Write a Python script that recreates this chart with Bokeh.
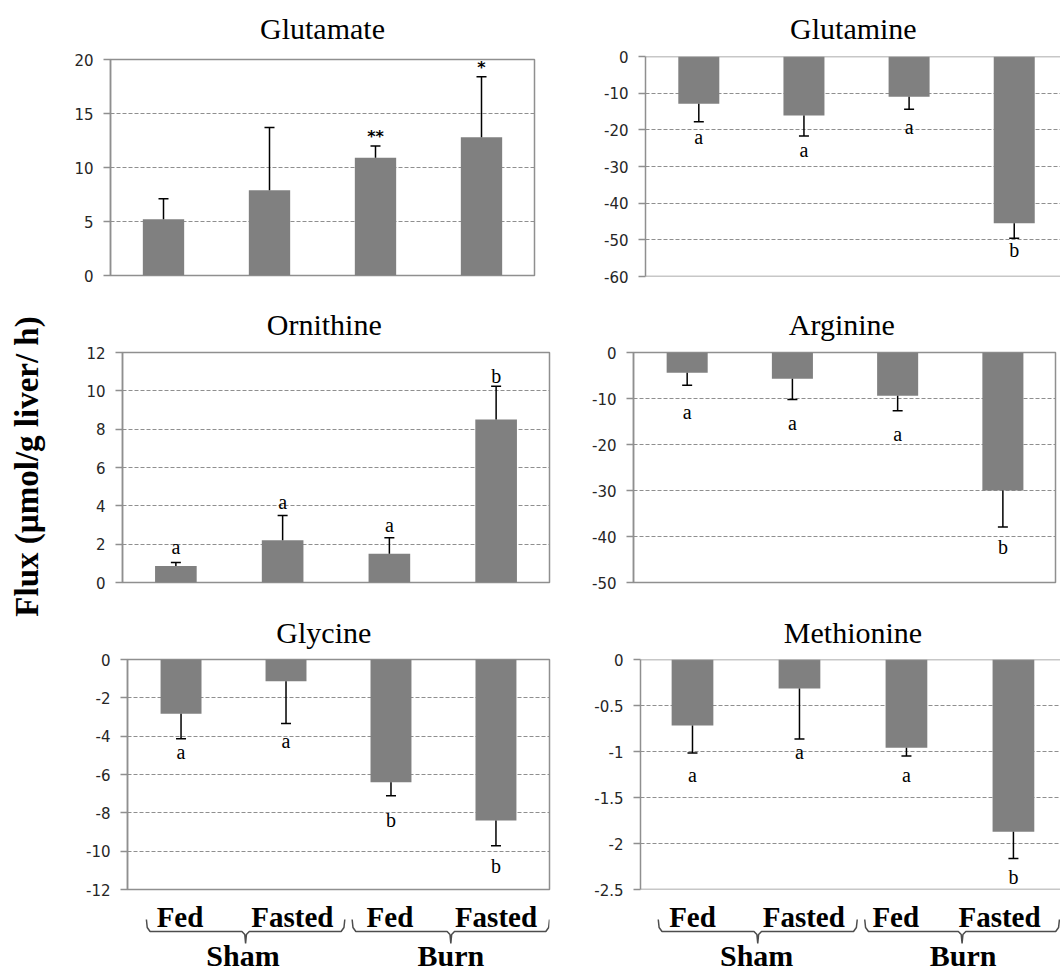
import math
from bokeh.plotting import figure
from bokeh.layouts import row, column
from bokeh.models import ColumnDataSource, Range1d, FixedTicker, Whisker, TeeHead, Span
from bokeh.core.properties import value
from bokeh.embed import file_html
from bokeh.resources import INLINE

# ---------------- data ----------------
groups = ["Sham", "Burn"]
conditions = ["Fed", "Fasted", "Fed", "Fasted"]
ylabel = "Flux (\u00b5mol/g liver/ h)"

glutamate = [5.2, 7.9, 10.9, 12.8]
glutamate_err = [1.9, 5.8, 1.1, 5.6]
glutamate_marks = ["", "", "**", "*"]
glutamate_mark_y = [0, 0, 12.9, 19.3]
glutamate_ticks = [0, 5, 10, 15, 20]
glutamate_tick_labels = ["0", "5", "10", "15", "20"]

glutamine = [-12.9, -16.1, -11.0, -45.5]
glutamine_err = [4.9, 5.6, 3.4, 4.1]
glutamine_marks = ["a", "a", "a", "b"]
glutamine_mark_y = [-22.0, -25.4, -19.1, -52.9]
glutamine_ticks = [0, -10, -20, -30, -40, -50, -60]
glutamine_tick_labels = ["0", "-10", "-20", "-30", "-40", "-50", "-60"]

ornithine = [0.86, 2.2, 1.5, 8.5]
ornithine_err = [0.18, 1.3, 0.83, 1.74]
ornithine_marks = ["a", "a", "a", "b"]
ornithine_mark_y = [1.83, 4.2, 2.99, 10.8]
ornithine_ticks = [0, 2, 4, 6, 8, 10, 12]
ornithine_tick_labels = ["0", "2", "4", "6", "8", "10", "12"]

arginine = [-4.4, -5.7, -9.4, -30.0]
arginine_err = [2.7, 4.5, 3.25, 7.95]
arginine_marks = ["a", "a", "a", "b"]
arginine_mark_y = [-12.9, -15.4, -17.7, -42.3]
arginine_ticks = [0, -10, -20, -30, -40, -50]
arginine_tick_labels = ["0", "-10", "-20", "-30", "-40", "-50"]

glycine = [-2.83, -1.13, -6.4, -8.4]
glycine_err = [1.31, 2.21, 0.71, 1.32]
glycine_marks = ["a", "a", "b", "b"]
glycine_mark_y = [-4.84, -4.23, -8.35, -10.75]
glycine_ticks = [0, -2, -4, -6, -8, -10, -12]
glycine_tick_labels = ["0", "-2", "-4", "-6", "-8", "-10", "-12"]

methionine = [-0.717, -0.315, -0.96, -1.873]
methionine_err = [0.30, 0.55, 0.09, 0.29]
methionine_marks = ["a", "a", "a", "b"]
methionine_mark_y = [-1.25, -1.0, -1.25, -2.36]
methionine_ticks = [0, -0.5, -1, -1.5, -2, -2.5]
methionine_tick_labels = ["0", "-0.5", "-1", "-1.5", "-2", "-2.5"]

# label placement under the bottom panels (category units)
glycine_cond_x = [-0.01, 1.06, 1.99, 3.0]
glycine_group_x = [0.59, 2.57]
glycine_braces = [(-0.33, 1.56), (1.63, 3.51)]
methionine_cond_x = [0.0, 1.04, 1.9, 2.87]
methionine_group_x = [0.6, 2.53]
methionine_braces = [(-0.32, 1.54), (1.61, 3.43)]

# ---------------- style ----------------
GRAY = "#8f8f8f"
BAR = "#808080"
SERIF = "Liberation Serif"
SANS = "DejaVu Sans"
xpos = list(range(len(conditions)))
TOTAL_H = 972


def bare(W, H, xr, yr, bl, br):
    s = figure(width=W, height=H, x_range=xr, y_range=yr,
               x_axis_type=None, y_axis_type=None, toolbar_location=None,
               output_backend="svg", min_border_left=bl, min_border_right=br,
               min_border_top=0, min_border_bottom=0)
    s.outline_line_color = None
    s.grid.visible = False
    s.background_fill_color = "white"
    s.border_fill_color = "white"
    return s


def make_panel(vals, errs, marks, mark_y, ticks, tick_labels, yr, xr,
               W, H, bl, br, bt, bb, outline=True,
               mark_font=SERIF, mark_size="20px", mark_style="normal"):
    p = figure(width=W, height=H, x_range=Range1d(*xr), y_range=Range1d(*yr),
               x_axis_type=None, toolbar_location=None, output_backend="svg",
               min_border_left=bl, min_border_right=br, min_border_top=bt,
               min_border_bottom=bb)
    p.background_fill_color = "white"
    p.border_fill_color = "white"

    ax = p.yaxis[0]
    ax.ticker = FixedTicker(ticks=ticks)
    ax.major_label_overrides = {t: l for t, l in zip(ticks, tick_labels)}
    ax.major_label_text_font = SANS
    ax.major_label_text_font_size = "15px"
    ax.major_label_text_color = "#262626"
    ax.major_label_standoff = 10
    ax.major_tick_out = 7
    ax.major_tick_in = 0
    ax.major_tick_line_color = GRAY
    ax.major_tick_line_width = 1.5
    ax.minor_tick_line_color = None
    ax.axis_line_color = GRAY
    ax.axis_line_width = 1.5

    p.xgrid.visible = False
    p.ygrid.grid_line_color = GRAY
    p.ygrid.grid_line_dash = "4 2"
    p.ygrid.grid_line_width = 1

    if outline:
        p.outline_line_color = GRAY
        p.outline_line_width = 1.5
    else:
        p.outline_line_color = None
        for loc in (yr[0], yr[1]):
            p.add_layout(Span(location=loc, dimension="width", line_color=GRAY,
                              line_width=1.5))

    positive = vals[0] > 0
    lower = [v if positive else v - e for v, e in zip(vals, errs)]
    upper = [v + e if positive else v for v, e in zip(vals, errs)]
    src = ColumnDataSource(dict(x=xpos, val=vals, lower=lower, upper=upper,
                                mark=marks, my=mark_y))
    p.vbar(x="x", top="val", bottom=0, width=0.39, source=src,
           fill_color=BAR, line_color=None)
    head = TeeHead(size=10, line_color="black", line_width=1.5)
    wk = Whisker(source=src, base="x", lower="lower", upper="upper",
                 dimension="height", line_color="black", line_width=1.5,
                 upper_head=head if positive else None,
                 lower_head=None if positive else head, level="annotation")
    p.add_layout(wk)
    p.text(x="x", y="my", text="mark", source=src, text_font=value(mark_font),
           text_font_size=mark_size, text_font_style=mark_style,
           text_align="center", text_baseline="middle", text_color="black")
    return p


def make_title(p, name, W, H, bl, br, tx, ty):
    t = bare(W, H, p.x_range, Range1d(H, 0), bl, br)
    t.text(x=[tx], y=[ty], text=[name], text_font=value(SERIF),
           text_font_size="30px", text_font_style="normal",
           text_align="center", text_baseline="middle", text_color="black")
    return t


def make_strip(p, W, H, bl, br, cond_x, group_x, braces):
    s = bare(W, H, p.x_range, Range1d(H, 0), bl, br)
    s.text(x=cond_x, y=[17] * len(cond_x), text=conditions,
           text_font=value(SERIF), text_font_style="bold", text_font_size="29px",
           text_align="center", text_baseline="middle", text_color="black")
    xs, ys = [], []
    for (x0, x1) in braces:
        xc = (x0 + x1) / 2.0
        top, mid, tip = 20, 32, 44
        xs.append([x0, x0 + 0.008, x0 + 0.035, xc - 0.035, xc - 0.008, xc,
                   xc + 0.008, xc + 0.035, x1 - 0.035, x1 - 0.008, x1])
        ys.append([top, mid - 4, mid, mid, mid + 3, tip, mid + 3, mid, mid,
                   mid - 4, top])
    s.multi_line(xs=xs, ys=ys, line_color="#4d4d4d", line_width=1.5)
    s.text(x=group_x, y=[56] * len(group_x), text=groups,
           text_font=value(SERIF), text_font_style="bold", text_font_size="30px",
           text_align="center", text_baseline="middle", text_color="black")
    return s


# y-axis label column
lab = bare(60, TOTAL_H, Range1d(0, 60), Range1d(TOTAL_H, 0), 0, 0)
lab.text(x=[26], y=[466], text=[ylabel], angle=math.pi / 2,
         text_font=value(SERIF), text_font_style="bold", text_font_size="33px",
         text_align="center", text_baseline="middle", text_color="black")

LW, RW = 505, 495

p1 = make_panel(glutamate, glutamate_err, glutamate_marks, glutamate_mark_y,
                glutamate_ticks, glutamate_tick_labels, (0, 20), (-0.5, 3.5),
                LW, 255, 50, 31, 14, 25, mark_font=SANS, mark_size="16px",
                mark_style="bold")
p2 = make_panel(glutamine, glutamine_err, glutamine_marks, glutamine_mark_y,
                glutamine_ticks, glutamine_tick_labels, (-60, 0), (-0.507, 3.44),
                RW, 255, 80, 0, 11, 24, outline=False)
p3 = make_panel(ornithine, ornithine_err, ornithine_marks, ornithine_mark_y,
                ornithine_ticks, ornithine_tick_labels, (0, 12), (-0.5, 3.5),
                LW, 259, 62, 16, 11, 18)
p4 = make_panel(arginine, arginine_err, arginine_marks, arginine_mark_y,
                arginine_ticks, arginine_tick_labels, (-50, 0), (-0.51, 3.5),
                RW, 259, 68, 5, 11, 18)
p5 = make_panel(glycine, glycine_err, glycine_marks, glycine_mark_y,
                glycine_ticks, glycine_tick_labels, (-12, 0), (-0.51, 3.51),
                LW, 250, 67, 16, 10, 10)
p6 = make_panel(methionine, methionine_err, methionine_marks, methionine_mark_y,
                methionine_ticks, methionine_tick_labels, (-2.5, 0), (-0.486, 3.44),
                RW, 250, 75, 0, 10, 10, outline=False)

t1 = make_title(p1, "Glutamate", LW, 45, 50, 31, 1.5, 28)
t2 = make_title(p2, "Glutamine", RW, 45, 80, 0, 1.47, 28)
t3 = make_title(p3, "Ornithine", LW, 41, 62, 16, 1.39, 24)
t4 = make_title(p4, "Arginine", RW, 41, 68, 5, 1.47, 24)
t5 = make_title(p5, "Glycine", LW, 49, 67, 16, 1.36, 31.5)
t6 = make_title(p6, "Methionine", RW, 49, 75, 0, 1.5, 31.5)

s5 = make_strip(p5, LW, 73, 67, 16, glycine_cond_x, glycine_group_x, glycine_braces)
s6 = make_strip(p6, RW, 73, 75, 0, methionine_cond_x, methionine_group_x, methionine_braces)

grid = column(
    row(column(t1, p1), column(t2, p2)),
    row(column(t3, p3), column(t4, p4)),
    row(column(t5, p5, s5), column(t6, p6, s6)),
)
layout = row(lab, grid)

open("out.html", "w").write(file_html(layout, INLINE))
